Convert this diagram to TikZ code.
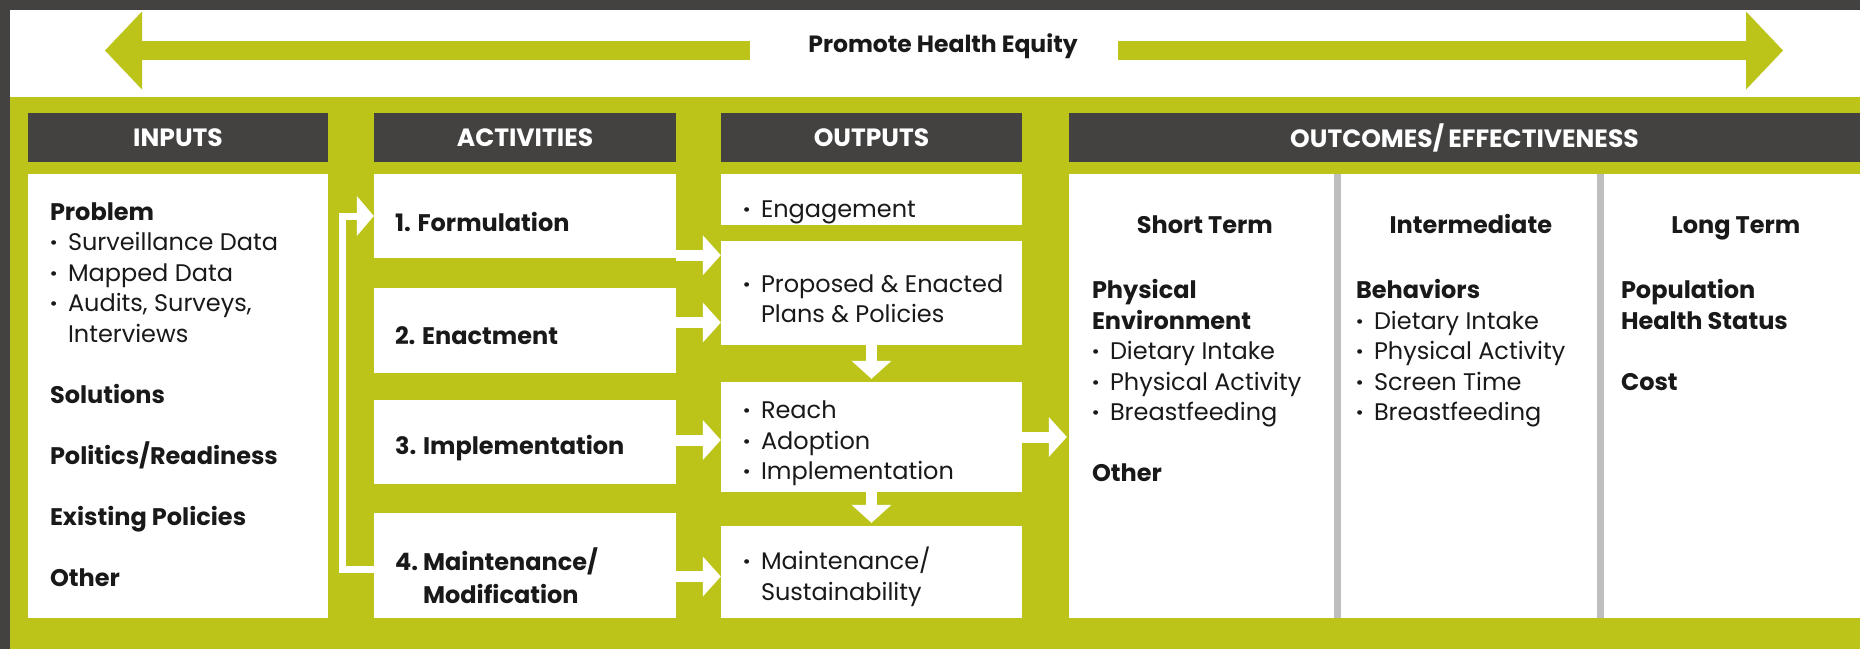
\documentclass[tikz,border=0pt]{standalone}
\usepackage{fontspec}
\setmainfont{Poppins}
\usepackage{tikz}
\usetikzlibrary{arrows.meta}
\definecolor{eqgreen}{HTML}{BCC41A}
\definecolor{charcoal}{HTML}{444241}
\definecolor{divgray}{HTML}{BEBEBE}
\newcommand{\pbul}{\makebox[18pt][l]{\textbf{·}}}
\newcommand{\pind}{\hspace*{18pt}}

\begin{document}
\begin{tikzpicture}[x=1pt,y=-1pt,
    hdr/.style={fill=charcoal, text=white, font=\bfseries\fontsize{25}{28}\selectfont, minimum height=49pt, inner sep=0pt},
    wbox/.style={fill=white, inner sep=0pt},
    txt/.style={font=\fontsize{24}{30.5}\selectfont, align=left, inner sep=0pt, text=black!90},
    ttl/.style={font=\bfseries\fontsize{24}{28}\selectfont, inner sep=0pt, text=black!90, anchor=base},
    warrow/.style={white, line width=11pt, -{Triangle[width=40pt,length=18pt,line width=0pt]}},
    fback/.style={white, line width=7pt, -{Triangle[width=40pt,length=17pt,line width=0pt]}},
    garrow/.style={eqgreen, line width=19pt, -{Triangle[width=78pt,length=37pt,line width=0pt]}}]
    \useasboundingbox (0,0) rectangle (1860,649);
    \fill[charcoal] (0,0) rectangle (1860,649);
    \fill[white] (10,10) rectangle (1860,97);
    \fill[eqgreen] (10,97) rectangle (1860,649);

    \coordinate (eqL) at (105,50.5);
    \coordinate (eqR) at (1783,50.5);
    \node[font=\bfseries\fontsize{23.5}{27}\selectfont, inner xsep=58pt, inner ysep=0pt, text=black!90] (equity) at (943,46) {Promote Health Equity};
    \draw[garrow] (equity.west |- eqL) -- (eqL);
    \draw[garrow] ([xshift=-18pt]equity.east |- eqR) -- (eqR);

    \node[hdr, minimum width=300pt] (hIn) at (178,137.5) {INPUTS};
    \node[hdr, minimum width=302pt] (hAct) at (525,137.5) {ACTIVITIES};
    \node[hdr, minimum width=301pt] (hOut) at (871.5,137.5) {OUTPUTS};
    \node[hdr, minimum width=791pt] (hOutc) at (1464.5,137.5) {OUTCOMES/\,EFFECTIVENESS};

    \node[wbox, minimum width=300pt, minimum height=444pt] (inputs) at (178,396) {};
    \node[wbox, minimum width=302pt, minimum height=84pt] (act1) at (525,216) {};
    \node[wbox, minimum width=302pt, minimum height=85pt] (act2) at (525,330.5) {};
    \node[wbox, minimum width=302pt, minimum height=84pt] (act3) at (525,442) {};
    \node[wbox, minimum width=302pt, minimum height=105pt] (act4) at (525,565.5) {};
    \node[wbox, minimum width=301pt, minimum height=51pt] (out1) at (871.5,199.5) {};
    \node[wbox, minimum width=301pt, minimum height=104pt] (out2) at (871.5,293) {};
    \node[wbox, minimum width=301pt, minimum height=110pt] (out3) at (871.5,437) {};
    \node[wbox, minimum width=301pt, minimum height=92pt] (out4) at (871.5,572) {};
    \node[wbox, minimum width=791pt, minimum height=444pt] (outc) at (1464.5,396) {};
    \draw[divgray, line width=7pt] ([xshift=269pt]outc.north west) -- ([xshift=269pt]outc.south west);
    \draw[divgray, line width=7pt] ([xshift=532pt]outc.north west) -- ([xshift=532pt]outc.south west);

    \node[txt, anchor=north west] (inTxt) at ([shift={(22pt,-28.5pt)}]inputs.north west) {%
        \textbf{Problem}\\
        \pbul Surveillance Data\\
        \pbul Mapped Data\\
        \pbul Audits, Surveys,\\
        \pind Interviews\\[30.5pt]
        \textbf{Solutions}\\[30.5pt]
        \textbf{Politics/Readiness}\\[30.5pt]
        \textbf{Existing Policies}\\[30.5pt]
        \textbf{Other}};

    \node[txt, font=\bfseries\fontsize{24}{33}\selectfont, anchor=west] (a1Txt) at ([shift={(21pt,-6pt)}]act1.west) {1. Formulation};
    \node[txt, font=\bfseries\fontsize{24}{33}\selectfont, anchor=west] (a2Txt) at ([shift={(21pt,-5.5pt)}]act2.west) {2. Enactment};
    \node[txt, font=\bfseries\fontsize{24}{33}\selectfont, anchor=west] (a3Txt) at ([shift={(21pt,-6pt)}]act3.west) {3. Implementation};
    \node[txt, font=\bfseries\fontsize{24}{33}\selectfont, anchor=west] (a4Txt) at ([shift={(21pt,-10pt)}]act4.west) {4.\ Maintenance/\\\hphantom{4.\ }Modification};

    \node[txt, anchor=west] (o1Txt) at ([shift={(22pt,-12.5pt)}]out1.west) {\pbul Engagement};
    \node[txt, anchor=west] (o2Txt) at ([shift={(22pt,-6pt)}]out2.west) {\pbul Proposed \& Enacted\\\pind Plans \& Policies};
    \node[txt, anchor=west] (o3Txt) at ([shift={(22pt,-6.5pt)}]out3.west) {\pbul Reach\\\pbul Adoption\\\pbul Implementation};
    \node[txt, anchor=west] (o4Txt) at ([shift={(22pt,-5pt)}]out4.west) {\pbul Maintenance/\\\pind Sustainability};

    \node[ttl] (tShort) at ([shift={(136pt,-60pt)}]outc.north west) {Short Term};
    \node[ttl] (tMid) at ([shift={(402pt,-60pt)}]outc.north west) {Intermediate};
    \node[ttl] (tLong) at ([shift={(667pt,-60pt)}]outc.north west) {Long Term};
    \node[txt, anchor=north west] (cShort) at ([shift={(23pt,-105.5pt)}]outc.north west) {%
        \textbf{Physical}\\
        \textbf{Environment}\\
        \pbul Dietary Intake\\
        \pbul Physical Activity\\
        \pbul Breastfeeding\\[30.5pt]
        \textbf{Other}};
    \node[txt, anchor=north west] (cMid) at ([shift={(287pt,-105.5pt)}]outc.north west) {%
        \textbf{Behaviors}\\
        \pbul Dietary Intake\\
        \pbul Physical Activity\\
        \pbul Screen Time\\
        \pbul Breastfeeding};
    \node[txt, anchor=north west] (cLong) at ([shift={(552pt,-105.5pt)}]outc.north west) {%
        \textbf{Population}\\
        \textbf{Health Status}\\[30.5pt]
        \textbf{Cost}};

    \draw[warrow] ([yshift=3pt]act1.south east) -- ([yshift=3pt]act1.south east -| out2.west);
    \draw[warrow] ([yshift=8pt]act2.east) -- ([yshift=8pt]act2.east -| out2.west);
    \draw[warrow] ([yshift=2pt]act3.east) -- ([yshift=2pt]act3.east -| out3.west);
    \draw[warrow] ([yshift=-11pt]act4.east) -- ([yshift=-11pt]act4.east -| out4.west);
    \draw[warrow, shorten >=3pt] (out2.south) -- (out3.north);
    \draw[warrow, shorten >=3pt] (out3.south) -- (out4.north);
    \draw[warrow, shorten >=2pt] (out3.east) -- (out3.east -| outc.west);
    \draw[fback] ([yshift=-3.5pt]act4.west) -- ++(-31pt,0) |- (act1.west);
\end{tikzpicture}
\end{document}
